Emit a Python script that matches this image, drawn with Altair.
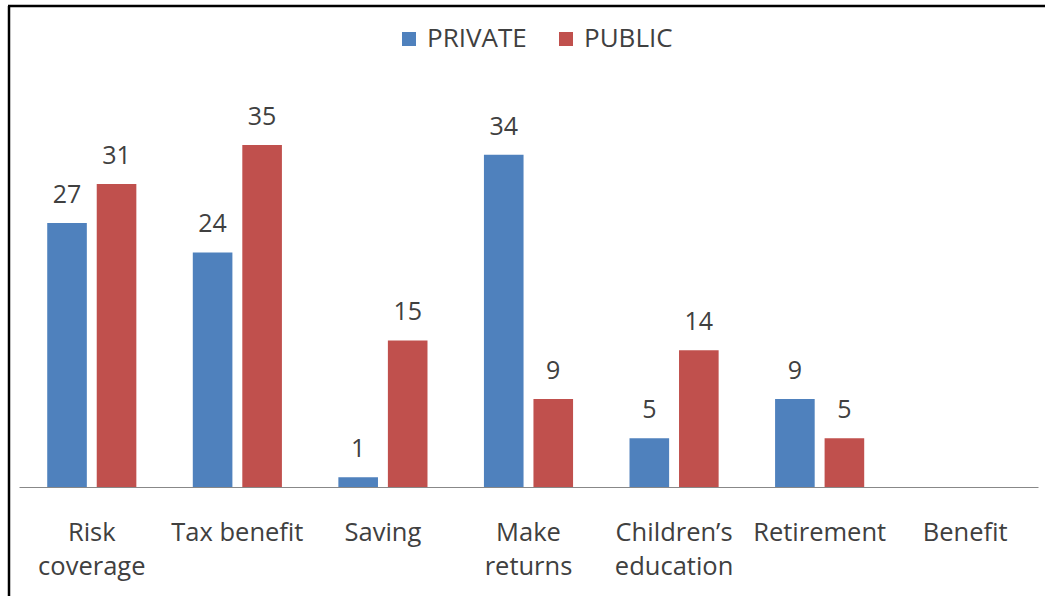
import altair as alt
import pandas as pd

categories = ["Risk coverage", "Tax benefit", "Saving", "Make returns",
              "Children’s education", "Retirement", "Benefit"]
cat_labels = {
    "Risk coverage": "Risk\ncoverage",
    "Tax benefit": "Tax benefit",
    "Saving": "Saving",
    "Make returns": "Make\nreturns",
    "Children’s education": "Children’s\neducation",
    "Retirement": "Retirement",
    "Benefit": "Benefit",
}
series = ["PRIVATE", "PUBLIC"]
private_vals = [27, 24, 1, 34, 5, 9]
public_vals = [31, 35, 15, 9, 14, 5]
colors = ["#4F81BD", "#C0504D"]

rows = []
for i, c in enumerate(categories[:6]):
    rows.append({"cat": cat_labels[c], "series": "PRIVATE", "value": private_vals[i]})
    rows.append({"cat": cat_labels[c], "series": "PUBLIC", "value": public_vals[i]})
df = pd.DataFrame(rows)

cat_domain = [cat_labels[c] for c in categories]
FONT = "Open Sans"
TXT = "#404040"

x = alt.X("cat:N", scale=alt.Scale(domain=cat_domain, paddingInner=0, paddingOuter=0),
          sort=cat_domain,
          axis=alt.Axis(title=None, labelAngle=0, ticks=False, domainColor="#888888",
                        domainWidth=1, labelFont=FONT, labelFontSize=25.5, labelColor=TXT,
                        labelPadding=33, labelLineHeight=34,
                        labelExpr="split(datum.label, '\\n')"))
xo = alt.XOffset("series:N", scale=alt.Scale(domain=series, paddingInner=0.2, paddingOuter=0.57))
y = alt.Y("value:Q", scale=alt.Scale(domain=[0, 40]), axis=None)

base = alt.Chart(df)
bars = base.mark_bar().encode(
    x=x, xOffset=xo, y=y,
    color=alt.Color("series:N", scale=alt.Scale(domain=series, range=colors),
                    legend=alt.Legend(title=None, orient="none", direction="horizontal",
                                      legendX=377, legendY=-70, symbolType="square",
                                      symbolSize=196, symbolStrokeWidth=0,
                                      labelFont=FONT, labelFontSize=26, labelColor=TXT,
                                      labelOffset=5, columnPadding=26)),
)
labels = base.mark_text(font=FONT, fontSize=25, color=TXT, baseline="alphabetic", dy=-20).encode(
    x=x, xOffset=xo, y=y, text="value:Q"
)

frame_left = alt.Chart(pd.DataFrame({"a": [0]})).mark_rule(color="black", strokeWidth=2.5).encode(
    x=alt.value(-10), y=alt.value(-90), y2=alt.value(520)
)
frame_top = alt.Chart(pd.DataFrame({"a": [0]})).mark_rule(color="black", strokeWidth=2.5).encode(
    x=alt.value(-11), x2=alt.value(1040), y=alt.value(-90)
)

chart = alt.layer(bars, labels, frame_left, frame_top).properties(
    width=1019, height=391,
    padding={"left": 19, "top": 96, "right": 7, "bottom": 109},
    autosize=alt.AutoSizeParams(type="none"),
    background="white",
).configure_view(stroke=None)

chart.save("out.html", embed_options={"renderer": "svg", "actions": False})
